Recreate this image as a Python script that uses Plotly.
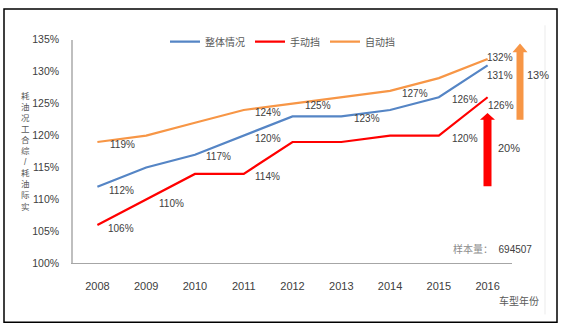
import plotly.graph_objects as go

W, H = 562, 333

years = [2008, 2009, 2010, 2011, 2012, 2013, 2014, 2015, 2016]
overall = [112, 115, 117, 120, 123, 123, 124, 126, 131]
manual = [106, 110, 114, 114, 119, 119, 120, 120, 126]
auto = [119, 120, 122, 124, 125, 126, 127, 129, 132]
y_ticks = [100, 105, 110, 115, 120, 125, 130, 135]
y_tick_text = [f"{v}%" for v in y_ticks]

names = ["整体情况", "手动挡", "自动挡"]
colors = ["#5585C5", "#FF0000", "#F79646"]

# which points carry a label, with pixel offsets (dx, dy down)
label_overall = {2008: (24, 4), 2010: (24, 2), 2011: (24, 3), 2013: (26, 2), 2015: (26, 2), 2016: (12, 10)}
label_manual = {2008: (24, 3), 2009: (25, 4), 2011: (24, 3), 2015: (26, 3), 2016: (13, 8)}
label_auto = {2008: (25, 3), 2011: (24, 2), 2012: (25, 2), 2014: (25, 3), 2016: (12, -1)}

FONT = "Liberation Sans, Arial, Noto Sans CJK SC, sans-serif"


def px(x):
    return x / W


def py(y):
    return 1 - y / H


fig = go.Figure()
for name, vals, col in zip(names, [overall, manual, auto], colors):
    fig.add_trace(go.Scatter(x=years, y=vals, mode="lines", name=name,
                             line=dict(color=col, width=2.2)))

ann = []
for vals, labels in [(auto, label_auto), (overall, label_overall), (manual, label_manual)]:
    for yr, v in zip(years, vals):
        if yr in labels:
            dx, dy = labels[yr]
            ann.append(dict(x=yr, y=v, xref="x", yref="y", text=f"{v}%", showarrow=False,
                            xanchor="center", yanchor="middle",
                            xshift=dx, yshift=-dy, font=dict(size=10, color="#404040", family=FONT)))

# y axis title (stacked characters)
ytitle = "耗油况工合综/耗油际实"
ann.append(dict(x=px(26), y=py(151), xref="paper", yref="paper", showarrow=False,
                xanchor="center", yanchor="middle",
                text="<br>".join(list(ytitle)), font=dict(size=8.5, color="#595959", family=FONT)))
ann.append(dict(x=px(541), y=py(306), xref="paper", yref="paper", showarrow=False,
                xanchor="right", yanchor="middle",
                text="车型年份", font=dict(size=10, color="#595959", family=FONT)))
ann.append(dict(x=px(534), y=py(252), xref="paper", yref="paper", showarrow=False,
                xanchor="right", yanchor="middle",
                text="<span style='color:#8C8C8C'>样本量：</span>  694507",
                font=dict(size=10, color="#404040", family=FONT)))
ann.append(dict(x=px(538), y=py(72), xref="paper", yref="paper", showarrow=False,
                xanchor="center", yanchor="middle",
                text="13%", font=dict(size=11, color="#404040", family=FONT)))
ann.append(dict(x=px(509), y=py(147), xref="paper", yref="paper", showarrow=False,
                xanchor="center", yanchor="middle",
                text="20%", font=dict(size=11, color="#404040", family=FONT)))


def arrow_path(cx, top, bottom, shaft_w, head_w, head_h):
    pts = [(cx, top), (cx + head_w / 2, top + head_h), (cx + shaft_w / 2, top + head_h),
           (cx + shaft_w / 2, bottom), (cx - shaft_w / 2, bottom), (cx - shaft_w / 2, top + head_h),
           (cx - head_w / 2, top + head_h)]
    return "M " + " L ".join(f"{px(a):.5f},{py(b):.5f}" for a, b in pts) + " Z"


shapes = [
    dict(type="rect", xref="paper", yref="paper", x0=px(4), x1=px(557), y0=py(3), y1=py(328),
         line=dict(color="#000000", width=1.5)),
    dict(type="line", xref="paper", yref="paper", x0=px(545), x1=px(545), y0=py(20), y1=py(320),
         line=dict(color="#EBEBEB", width=1)),
    dict(type="path", xref="paper", yref="paper", path=arrow_path(520, 39, 118, 7, 15, 9),
         fillcolor="#F79646", line=dict(width=0)),
    dict(type="path", xref="paper", yref="paper", path=arrow_path(487.5, 111, 187, 8, 15, 7),
         fillcolor="#FF0000", line=dict(width=0)),
]

fig.update_layout(
    width=W, height=H, margin=dict(l=0, r=0, t=0, b=0),
    paper_bgcolor="white", plot_bgcolor="white",
    font=dict(family=FONT, color="#404040"),
    showlegend=True,
    legend=dict(orientation="h", x=px(165), y=py(37), xanchor="left", yanchor="middle",
                font=dict(size=10, color="#595959", family=FONT), itemwidth=30,
                bgcolor="rgba(0,0,0,0)"),
    xaxis=dict(domain=[px(73), px(512)], range=[2007.5, 2016.5], tickvals=years,
               showgrid=False, zeroline=False, showline=True, linecolor="#A6A6A6", linewidth=1,
               ticks="", ticklabelstandoff=12, tickfont=dict(size=11, color="#404040")),
    yaxis=dict(domain=[py(267), py(35)], range=[100, 135], tickvals=y_ticks, ticktext=y_tick_text,
               showgrid=False, zeroline=False, showline=True, linecolor="#BFBFBF", linewidth=1.5,
               ticks="", ticklabelstandoff=10, tickfont=dict(size=10.5, color="#404040")),
    annotations=ann, shapes=shapes,
)

fig.write_html("out.html")
